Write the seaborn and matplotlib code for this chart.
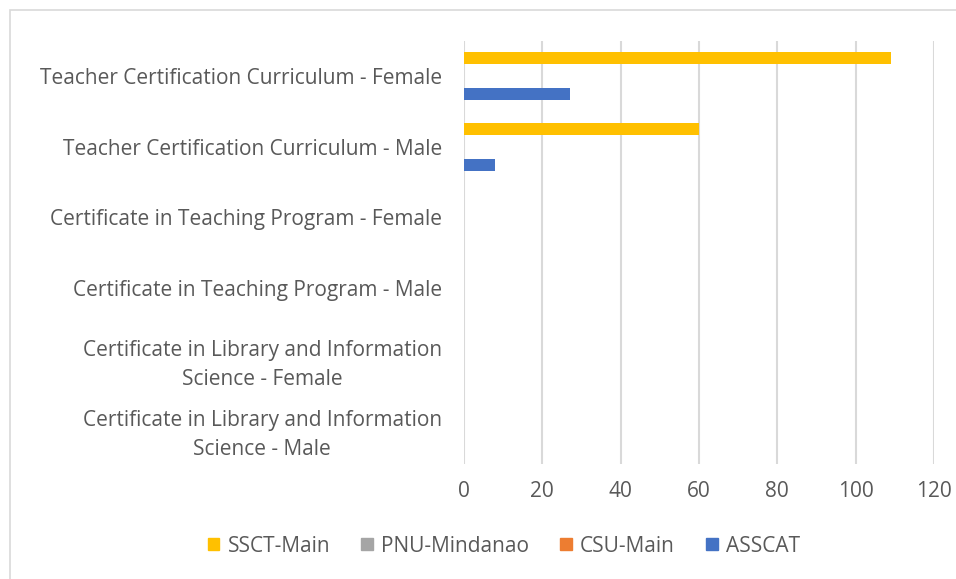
import pandas as pd
import matplotlib.pyplot as plt
import seaborn as sns
from matplotlib.patches import Rectangle

programs = ["Teacher Certification Curriculum - Female",
            "Teacher Certification Curriculum - Male",
            "Certificate in Teaching Program - Female",
            "Certificate in Teaching Program - Male",
            "Certificate in Library and Information\nScience - Female",
            "Certificate in Library and Information\nScience - Male"]
schools = ["SSCT-Main", "PNU-Mindanao", "CSU-Main", "ASSCAT"]
ssct = [109, 60, 0, 0, 0, 0]
pnu = [0, 0, 0, 0, 0, 0]
csu = [0, 0, 0, 0, 0, 0]
asscat = [27, 8, 0, 0, 0, 0]
colors = ["#FFC000", "#A5A5A5", "#ED7D31", "#4472C4"]

df = pd.DataFrame({"program": programs * 4,
                   "school": [s for s in schools for _ in programs],
                   "count": ssct + pnu + csu + asscat})

sns.set_style("white")
plt.rcParams['font.family'] = ['Open Sans', 'DejaVu Sans']
txt = "#595959"

fig = plt.figure(figsize=(9.56, 5.79), dpi=100)
ax = fig.add_axes([0.4854, 0.1986, 0.977 - 0.4854, 0.929 - 0.1986])
sns.barplot(data=df, y="program", x="count", hue="school", hue_order=schools,
            palette=colors, width=0.68, orient="h", ax=ax, legend=False,
            saturation=1, linewidth=0)

ax.set_xlim(0, 120)
ax.set_xticks(range(0, 121, 20))
ax.grid(axis="x", color="#D9D9D9", linewidth=1.5)
ax.set_axisbelow(True)
for s in ax.spines.values():
    s.set_visible(False)
ax.set_xlabel("")
ax.set_ylabel("")
ax.tick_params(axis="x", length=0, pad=12, labelsize=15, labelcolor=txt)
ax.tick_params(axis="y", length=0, pad=16, labelsize=15, labelcolor=txt)
for lab in ax.get_yticklabels():
    lab.set_multialignment("center")
    lab.set_linespacing(1.5)

handles = [Rectangle((0, 0), 1, 1, color=c) for c in colors]
fig.legend(handles, schools, loc="center", bbox_to_anchor=(504 / 956, 1 - 546 / 579),
           ncol=4, frameon=False, fontsize=15, labelcolor=txt,
           handlelength=0.55, handleheight=0.55, handletextpad=0.4, columnspacing=1.5)

fig.patches.append(Rectangle((10 / 956, -0.1), 1.2, 1.1 - 10 / 579,
                             transform=fig.transFigure, fill=False,
                             edgecolor="#D9D9D9", linewidth=1.2))

fig.savefig("out.png", dpi=100)
